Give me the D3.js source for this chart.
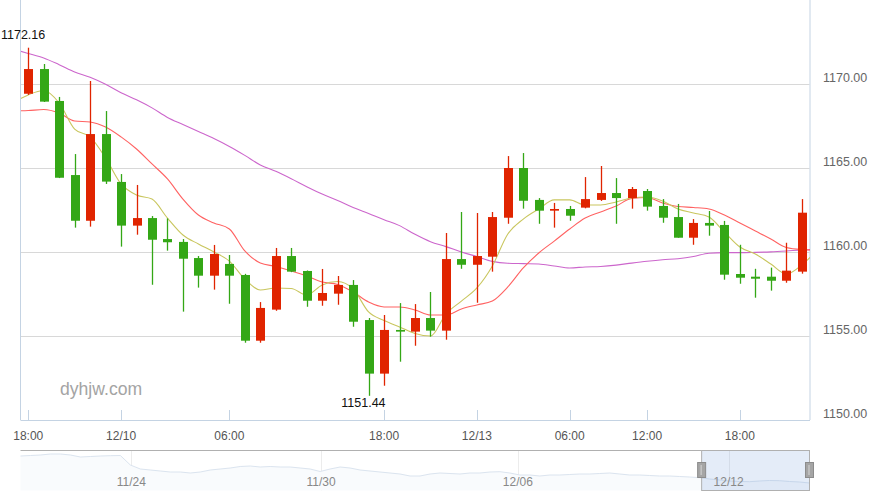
<!DOCTYPE html>
<html><head><meta charset="utf-8">
<script src="https://cdn.jsdelivr.net/npm/d3@7"></script>
<style>
html,body{margin:0;padding:0;background:#fff;}
svg{display:block;font-family:"Liberation Sans",Arial,sans-serif;}
</style></head>
<body>
<svg id="chart" width="872" height="495"></svg>
<script>
// ---- data ----
const opens  = [1169.42,1170.89,1168.99,1164.58,1161.86,1167.02,1164.17,1161.57,1162.02,1160.77,1160.60,1159.64,1158.59,1159.29,1158.63,1154.72,1156.57,1159.76,1158.87,1157.10,1157.52,1158.04,1155.95,1152.76,1155.36,1155.26,1156.07,1155.32,1159.58,1159.24,1159.72,1162.04,1165.00,1163.10,1162.46,1162.56,1162.64,1163.10,1163.51,1163.21,1163.63,1162.74,1162.08,1160.85,1161.73,1161.61,1158.69,1158.53,1158.53,1158.29,1158.83];
const highs  = [1172.16,1171.19,1169.23,1165.83,1170.18,1168.39,1164.64,1163.99,1162.14,1162.00,1160.77,1159.76,1160.42,1159.82,1158.70,1157.02,1160.24,1160.24,1158.90,1158.99,1158.57,1158.33,1156.07,1156.25,1156.96,1156.90,1157.62,1161.13,1162.38,1162.32,1162.38,1165.71,1165.89,1163.21,1162.92,1162.74,1164.46,1165.12,1164.40,1163.87,1163.75,1163.15,1162.86,1161.96,1162.44,1161.85,1160.43,1159.00,1159.07,1160.55,1163.15];
const lows   = [1169.35,1168.93,1164.40,1161.45,1161.51,1164.05,1160.32,1161.03,1158.05,1160.08,1156.45,1157.88,1157.76,1156.92,1154.60,1154.60,1156.50,1158.80,1156.74,1156.80,1156.86,1155.55,1151.44,1152.04,1153.47,1154.42,1154.96,1154.78,1159.00,1156.98,1158.83,1161.68,1162.58,1161.68,1161.45,1161.86,1162.60,1163.04,1161.68,1162.58,1162.46,1161.74,1160.85,1160.43,1160.97,1158.35,1158.11,1157.28,1157.70,1158.17,1158.71];
const closes = [1170.89,1168.95,1164.42,1161.86,1167.02,1164.19,1161.57,1162.02,1160.73,1160.58,1159.60,1158.59,1159.88,1158.59,1154.72,1156.67,1159.76,1158.83,1157.10,1157.56,1158.04,1155.85,1152.76,1155.36,1155.26,1156.07,1155.32,1159.58,1159.24,1159.76,1162.08,1165.00,1163.05,1162.46,1162.56,1162.16,1163.15,1163.51,1163.21,1163.75,1162.70,1162.04,1160.85,1161.73,1161.57,1158.65,1158.47,1158.41,1158.29,1158.89,1162.34];

// moving averages, index -1 .. 51 (one point beyond each edge of the view)
const ma5  = [1168.87,1169.35,1169.61,1168.87,1167.32,1166.85,1165.60,1164.05,1163.39,1163.15,1162.02,1161.01,1160.48,1160.00,1159.46,1158.39,1157.74,1157.86,1157.83,1157.44,1158.04,1158.24,1157.80,1156.43,1155.92,1155.54,1155.15,1155.00,1156.31,1157.08,1157.86,1159.17,1161.07,1161.96,1162.56,1163.10,1163.10,1162.80,1162.80,1162.98,1163.21,1163.27,1163.04,1162.56,1162.32,1162.08,1161.19,1160.30,1159.88,1159.29,1158.69,1159.23,1160.12];
const ma10 = [1168.39,1168.42,1168.48,1168.27,1167.80,1167.74,1167.44,1166.85,1166.13,1165.24,1164.35,1163.15,1162.20,1161.73,1161.37,1160.06,1159.35,1159.14,1158.87,1158.57,1158.21,1158.07,1157.62,1157.02,1156.73,1156.73,1156.55,1156.25,1156.25,1156.61,1156.85,1157.08,1157.92,1159.05,1159.94,1160.65,1161.37,1162.02,1162.38,1162.74,1163.18,1163.24,1162.92,1162.71,1162.65,1162.56,1162.20,1161.73,1161.25,1160.77,1160.27,1160.15,1160.12];
const ma30 = [1172.08,1171.82,1171.55,1171.15,1170.71,1170.40,1169.98,1169.48,1169.06,1168.58,1168.01,1167.59,1167.17,1166.75,1166.28,1165.75,1165.18,1164.80,1164.36,1163.89,1163.45,1163.07,1162.65,1162.29,1161.92,1161.57,1161.05,1160.61,1160.32,1160.00,1159.73,1159.44,1159.33,1159.31,1159.29,1159.17,1159.05,1159.11,1159.14,1159.22,1159.34,1159.45,1159.54,1159.60,1159.73,1159.93,1159.96,1159.96,1159.98,1160.01,1160.06,1160.12,1160.15];

const xTickIndex  = [0,6,13,23,29,35,40,46];
const xTickLabels = ["18:00","12/10","06:00","18:00","12/13","06:00","12:00","18:00"];
const yTicks = [1150,1155,1160,1165,1170];

// navigator (long history, faint line)
const navValues = [1214,1215,1216,1218,1218,1216,1212,1213,1214,1214.6,1215,1196,1188,1186,1184,1182,1182,1180,1182,1186,1188,1190,1193,1194,1192,1193,1192,1192,1190,1188,1183,1188,1192,1190,1186,1184,1182,1180,1178,1174,1174,1178,1180,1179,1178,1180,1180,1182,1182.6,1180,1176,1176,1174,1176,1176,1177,1178,1178,1179,1180,1178,1176,1176,1175,1174,1174,1173,1172,1170.6,1168,1166,1164,1163,1162.6,1164,1165,1164.6,1163,1162,1160];
const navTickIndex  = [11.1,30.1,49.8,70.9];
const navTickLabels = ["11/24","11/30","12/06","12/12"];
const navSelection  = [68.2,79];

// ---- layout ----
const svg = d3.select("#chart");
const L = 20.5, R = 809.5, T = 0, B = 420;
const navTop = 450.5, navBot = 490.5;
const n = closes.length;

const x = d3.scaleLinear().domain([-0.5, n - 0.5]).range([L, R]);
const y = d3.scaleLinear().domain([1150, 1175]).range([B, T]);

const up = "#e02400", down = "#34a716";

// grid
svg.append("g").selectAll("line").data(yTicks.filter(v => v > 1150)).join("line")
  .attr("x1", L).attr("x2", R)
  .attr("y1", d => Math.round(y(d)) + 0.5).attr("y2", d => Math.round(y(d)) + 0.5)
  .attr("stroke", "#d8d8d8").attr("stroke-width", 1);

// axis frame lines
const axisCol = "#c4d3e3";
svg.append("line").attr("x1", L).attr("x2", L).attr("y1", 0).attr("y2", B).attr("stroke", axisCol);
svg.append("line").attr("x1", R + 0.5).attr("x2", R + 0.5).attr("y1", 0).attr("y2", B).attr("stroke", axisCol);
svg.append("line").attr("x1", L).attr("x2", R + 0.5).attr("y1", B + 0.5).attr("y2", B + 0.5).attr("stroke", axisCol);

// x ticks (inside) and labels
const xt = svg.append("g");
xt.selectAll("line").data(xTickIndex).join("line")
  .attr("x1", d => Math.round(x(d)) + 0.5).attr("x2", d => Math.round(x(d)) + 0.5)
  .attr("y1", B - 10).attr("y2", B)
  .attr("stroke", axisCol);
xt.selectAll("text").data(xTickIndex).join("text")
  .attr("x", d => x(d)).attr("y", 440)
  .attr("text-anchor", "middle").attr("font-size", 12).attr("fill", "#555")
  .text((d, i) => xTickLabels[i]);

// y labels (right)
svg.append("g").selectAll("text").data(yTicks).join("text")
  .attr("x", 823).attr("y", d => y(d) - 2)
  .attr("font-size", 12.5).attr("fill", "#666")
  .text(d => d.toFixed(2));

// clip
svg.append("clipPath").attr("id", "plotclip").append("rect")
  .attr("x", L + 0.5).attr("y", 0).attr("width", R - L).attr("height", B);

// watermark
svg.append("text").attr("x", 60).attr("y", 395).attr("font-size", 17.6)
  .attr("fill", "#a4a4a4").text("dyhjw.com");

// moving average lines
const maLine = d3.line().x((d, i) => x(i - 1)).y(d => y(d)).curve(d3.curveMonotoneX);
const lines = svg.append("g").attr("clip-path", "url(#plotclip)");
[[ma30, "#cc66cc"], [ma10, "#ff6262"], [ma5, "#c9c65e"]].forEach(([arr, col]) => {
  lines.append("path").datum(arr).attr("d", maLine)
    .attr("fill", "none").attr("stroke", col).attr("stroke-width", 1.1);
});

// candles
const bw = 9;
const cg = svg.append("g");
const candles = d3.range(n).map(i => ({i, o: opens[i], h: highs[i], l: lows[i], c: closes[i]}));
cg.selectAll("line").data(candles).join("line")
  .attr("x1", d => Math.round(x(d.i)) + 0.5).attr("x2", d => Math.round(x(d.i)) + 0.5)
  .attr("y1", d => y(d.h)).attr("y2", d => y(d.l))
  .attr("stroke", d => d.c >= d.o ? up : down).attr("stroke-width", 1.3);
cg.selectAll("rect").data(candles).join("rect")
  .attr("x", d => Math.round(x(d.i)) + 0.5 - bw / 2)
  .attr("width", bw)
  .attr("y", d => y(Math.max(d.o, d.c)))
  .attr("height", d => Math.max(1.6, Math.abs(y(d.o) - y(d.c))))
  .attr("fill", d => d.c >= d.o ? up : down);

// max / min annotations
const iMax = d3.maxIndex(highs), iMin = d3.minIndex(lows);
svg.append("text").attr("x", x(iMax) + 17).attr("y", y(highs[iMax]) - 9)
  .attr("text-anchor", "end").attr("font-size", 12.5).attr("fill", "#111")
  .text(highs[iMax].toFixed(2));
svg.append("text").attr("x", x(iMin) + 17).attr("y", y(lows[iMin]) + 11)
  .attr("text-anchor", "end").attr("font-size", 12.5).attr("fill", "#111")
  .text(lows[iMin].toFixed(2));

// ---- navigator ----
const nx = d3.scaleLinear().domain([0, navValues.length - 1]).range([L, R]);
const ny = d3.scaleLinear().domain([1150, 1222]).range([488, 452]);
const ng = svg.append("g");
ng.selectAll("line.g").data(navTickIndex).join("line").attr("class", "g")
  .attr("x1", d => Math.round(nx(d)) + 0.5).attr("x2", d => Math.round(nx(d)) + 0.5)
  .attr("y1", navTop).attr("y2", navBot).attr("stroke", "#ececec");
ng.append("path").datum(navValues)
  .attr("d", d3.area().x((d, i) => nx(i)).y0(navBot).y1(d => ny(d)))
  .attr("fill", "#f9fbfd");
ng.append("path").datum(navValues)
  .attr("d", d3.line().x((d, i) => nx(i)).y(d => ny(d)))
  .attr("fill", "none").attr("stroke", "#dbe4ef").attr("stroke-width", 1);
const s0 = nx(navSelection[0]), s1 = nx(navSelection[1]);
ng.append("rect").attr("x", s0).attr("y", navTop).attr("width", s1 - s0).attr("height", navBot - navTop)
  .attr("fill", "rgba(120,160,220,0.2)").attr("stroke", "#b0b0b0");
ng.append("line").attr("x1", L).attr("x2", s0).attr("y1", navTop).attr("y2", navTop).attr("stroke", "#b0b0b0");
ng.selectAll("text").data(navTickIndex).join("text")
  .attr("x", d => nx(d)).attr("y", 486).attr("text-anchor", "middle")
  .attr("font-size", 12).attr("fill", "#888")
  .text((d, i) => navTickLabels[i]);
[s0, s1].forEach(sx => {
  ng.append("rect").attr("x", sx - 4).attr("y", 462.5).attr("width", 8).attr("height", 15)
    .attr("fill", "#a5a5a5").attr("stroke", "#8c8c8c");
  ng.append("line").attr("x1", sx - 0.5).attr("x2", sx - 0.5).attr("y1", 465).attr("y2", 475)
    .attr("stroke", "#d6d6d6");
});
</script>
</body></html>
